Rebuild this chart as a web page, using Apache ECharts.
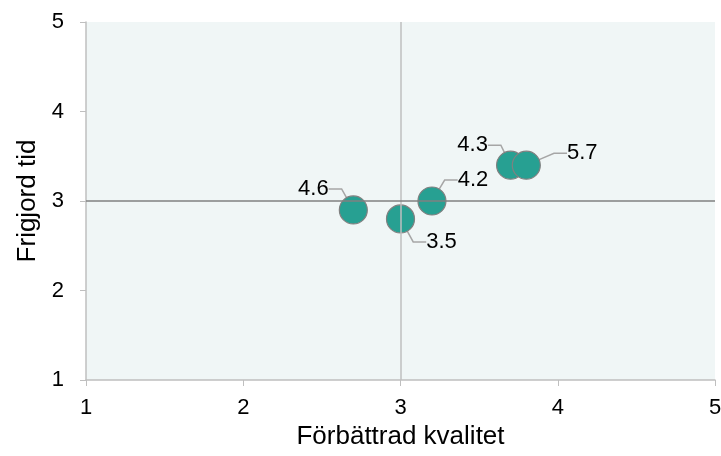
<!DOCTYPE html>
<html>
<head>
<meta charset="utf-8">
<script src="https://cdn.jsdelivr.net/npm/echarts@6/dist/echarts.min.js"></script>
<style>html,body{margin:0;padding:0;background:#fff}#c{width:721px;height:456px}</style>
</head>
<body>
<div id="c"></div>
<script>
var xValues = [2.7, 3.0, 3.2, 3.7, 3.8];
var yValues = [2.9, 2.8, 3.0, 3.4, 3.4];
var labels = ['4.6', '3.5', '4.2', '4.3', '5.7'];
var labelOffsets = [[-40, -21], [41, 23], [41, -21], [-38, -20], [56, -12]];
var xTicks = [1, 2, 3, 4, 5];
var yTicks = [1, 2, 3, 4, 5];
var xCross = 3, yCross = 3;

var chart = echarts.init(document.getElementById('c'));
var font = '"Liberation Sans", Arial, sans-serif';
var data = xValues.map(function (x, i) { return { value: [x, yValues[i]], name: labels[i] }; });
chart.setOption({
  animation: false,
  grid: { left: 86, right: 6, top: 22, bottom: 76, show: true, backgroundColor: '#f0f6f6', borderWidth: 0, containLabel: false, outerBoundsMode: 'none' },
  xAxis: {
    type: 'value', min: xTicks[0], max: xTicks[xTicks.length - 1], interval: 1,
    name: 'Förbättrad kvalitet', nameLocation: 'middle', nameGap: 44,
    nameTextStyle: { fontFamily: font, fontSize: 26, color: '#000' },
    axisLine: { show: true, lineStyle: { color: '#bfbfbf', width: 1.5 } },
    axisTick: { show: true, length: 6, lineStyle: { color: '#bfbfbf' } },
    axisLabel: { fontFamily: font, fontSize: 22, color: '#000', margin: 17 },
    splitLine: { show: false }
  },
  yAxis: {
    type: 'value', min: yTicks[0], max: yTicks[yTicks.length - 1], interval: 1,
    name: 'Frigjord tid', nameLocation: 'middle', nameGap: 45,
    nameTextStyle: { fontFamily: font, fontSize: 26, color: '#000' },
    axisLine: { show: true, lineStyle: { color: '#bfbfbf', width: 1.5 } },
    axisTick: { show: true, length: 6, lineStyle: { color: '#bfbfbf' } },
    axisLabel: { fontFamily: font, fontSize: 22, color: '#000', margin: 22 },
    splitLine: { show: false }
  },
  series: [{
    type: 'scatter',
    symbolSize: 28,
    data: data,
    itemStyle: { color: '#27a092', borderColor: '#808080', borderWidth: 1.2, opacity: 1 },
    label: {
      show: true, position: 'inside', formatter: function (p) { return p.name; },
      fontFamily: font, fontSize: 22, color: '#000'
    },
    labelLine: { show: true, length2: 13, lineStyle: { color: '#a6a6a6', width: 1.5 } },
    labelLayout: function (p) {
      var o = labelOffsets[p.dataIndex];
      return { dx: o[0], dy: o[1] };
    },
    markLine: {
      silent: true, symbol: 'none', label: { show: false },
      data: [
        { xAxis: xCross, lineStyle: { color: '#bfbfbf', width: 1.5, type: 'solid' } },
        { yAxis: yCross, lineStyle: { color: '#808080', width: 1.5, type: 'solid' } }
      ]
    },
    z: 3
  }]
});
</script>
</body>
</html>
